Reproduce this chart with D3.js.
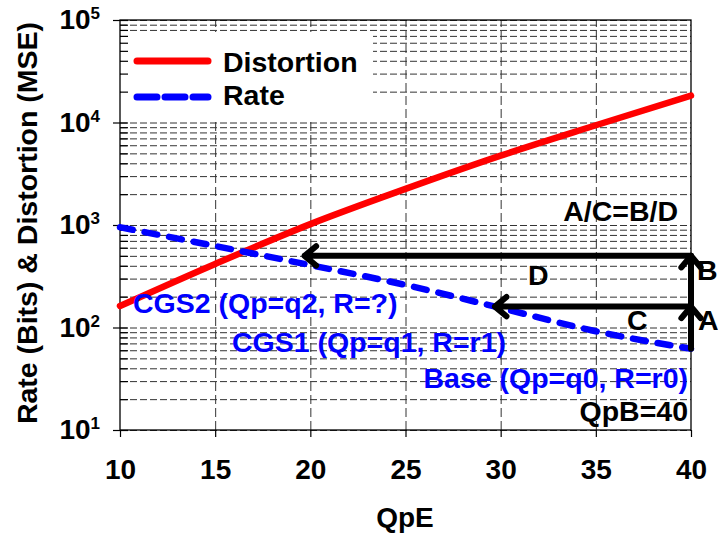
<!DOCTYPE html>
<html>
<head>
<meta charset="utf-8">
<script src="https://cdn.jsdelivr.net/npm/d3@7"></script>
<style>
body { margin: 0; background: #fff; }
svg text { font-family: "Liberation Sans", Arial, sans-serif; font-weight: bold; }
</style>
</head>
<body>
<div id="chart"></div>
<script>
//Width and height
var w = 718;
var h = 536;
var plotLeft = 120, plotRight = 691, plotTop = 20, plotBottom = 430;

//Data
var qpe = [10, 15, 20, 25, 30, 35, 40];
var distortion = [162, 417, 1020, 2250, 4750, 9400, 18300];
var rate = [950, 624, 406, 260, 155, 92, 62];
var xTicks = [10, 15, 20, 25, 30, 35, 40];
var yTicks = [1e1, 1e2, 1e3, 1e4, 1e5];
var seriesNames = ["Distortion", "Rate"];
//arrows: [from QpE, from value, to QpE, to value]
var arrows = [[40, 500, 19.7, 500], [40, 160, 29.7, 160], [40, 62, 40, 160], [40, 160, 40, 500]];
var noteTexts = ["A/C=B/D", "D", "C", "B", "A", "CGS2 (Qp=q2, R=?)", "CGS1 (Qp=q1, R=r1)", "Base (Qp=q0, R=r0)", "QpB=40"];

//Where each note goes (pixels), kept apart from the data
var noteLayout = [
  {x: 678, y: 221, anchor: "end", color: "#000"},
  {x: 528, y: 285, anchor: "start", color: "#000"},
  {x: 627, y: 330, anchor: "start", color: "#000"},
  {x: 697, y: 280, anchor: "start", color: "#000"},
  {x: 698, y: 330, anchor: "start", color: "#000"},
  {x: 133, y: 313, anchor: "start", color: "#0000ff"},
  {x: 232, y: 352, anchor: "start", color: "#0000ff"},
  {x: 688, y: 388, anchor: "end", color: "#0000ff"},
  {x: 688, y: 421, anchor: "end", color: "#000"}
];

//Scales
var xScale = d3.scaleLinear().domain([10, 40]).range([plotLeft, plotRight]);
var yScale = d3.scaleLog().domain([1e1, 1e5]).range([plotBottom, plotTop]);

//minor values 2..9 for every decade, and all 1..9 for inward ticks
var minor = [], allTicks = [];
yTicks.forEach(function(d) {
  for (var k = 1; k < 10; k++) {
    if (d * k > 1e5) break;
    allTicks.push(d * k);
    if (k > 1) minor.push(d * k);
  }
});

var svg = d3.select("#chart")
  .append("svg")
  .attr("width", w)
  .attr("height", h);

//Horizontal grid
var yGrid = svg.append("g")
  .attr("transform", "translate(" + plotLeft + ",0)")
  .call(d3.axisLeft(yScale).tickValues(minor.concat(yTicks)).tickSize(-(plotRight - plotLeft)).tickFormat(""));
yGrid.select(".domain").remove();
yGrid.selectAll("line").attr("stroke", "#333").attr("stroke-dasharray", "7,3");

//Vertical grid
var xGrid = svg.append("g")
  .attr("transform", "translate(0," + plotBottom + ")")
  .call(d3.axisBottom(xScale).tickValues([15, 20, 25, 30, 35]).tickSize(-(plotBottom - plotTop)).tickFormat(""));
xGrid.select(".domain").remove();
xGrid.selectAll("line").attr("stroke", "#333").attr("stroke-dasharray", "9,4");

//Legend box hides the grid
svg.append("rect")
  .attr("x", plotLeft + 1).attr("y", 32)
  .attr("width", 252).attr("height", 90)
  .attr("fill", "#fff");

//Frame
svg.append("rect")
  .attr("x", plotLeft).attr("y", plotTop)
  .attr("width", plotRight - plotLeft).attr("height", plotBottom - plotTop)
  .attr("fill", "none").attr("stroke", "#000").attr("stroke-width", 1.3);

//Inward ticks
var yIn = svg.append("g")
  .attr("transform", "translate(" + plotLeft + ",0)")
  .call(d3.axisLeft(yScale).tickValues(allTicks).tickSize(-8).tickFormat(""));
yIn.select(".domain").remove();
yIn.selectAll("line").attr("stroke-width", 1.2);

//Y axis with 10^n labels
var yAxis = svg.append("g")
  .attr("transform", "translate(" + plotLeft + ",0)")
  .call(d3.axisLeft(yScale).tickValues(yTicks).tickSize(7).tickPadding(13));
yAxis.select(".domain").remove();
yAxis.selectAll("line").attr("stroke-width", 1.2);
yAxis.selectAll(".tick text")
  .attr("font-size", 28)
  .attr("fill", "#000")
  .text(null)
  .each(function(d) {
    var t = d3.select(this);
    t.append("tspan").text("10");
    t.append("tspan").attr("font-size", 17).attr("dy", -10).text(Math.round(Math.log10(d)));
  });

//X axis
var xAxis = svg.append("g")
  .attr("transform", "translate(0," + plotBottom + ")")
  .call(d3.axisBottom(xScale).tickValues(xTicks).tickSize(7).tickPadding(22));
xAxis.select(".domain").remove();
xAxis.selectAll("line").attr("stroke-width", 1.2);
xAxis.selectAll(".tick text").attr("font-size", 28).attr("fill", "#000");

//Axis titles
svg.append("text")
  .attr("x", 405).attr("y", 527)
  .attr("text-anchor", "middle")
  .attr("font-size", 28)
  .text("QpE");

svg.append("text")
  .attr("transform", "translate(37,223) rotate(-90)")
  .attr("text-anchor", "middle")
  .attr("font-size", 28.5)
  .text("Rate (Bits) & Distortion (MSE)");

//Lines
var line = function(values) {
  return d3.line()
    .x(function(d, i) { return xScale(qpe[i]); })
    .y(function(d) { return yScale(d); })
    .curve(d3.curveMonotoneX)(values);
};

svg.append("path")
  .attr("d", line(distortion))
  .attr("fill", "none")
  .attr("stroke", "#ff0000")
  .attr("stroke-width", 6.5)
  .attr("stroke-linecap", "round");

svg.append("path")
  .attr("d", line(rate))
  .attr("fill", "none")
  .attr("stroke", "#0000ff")
  .attr("stroke-width", 6.5)
  .attr("stroke-linecap", "round")
  .attr("stroke-dasharray", "13,12");

//Arrows with open heads
svg.append("g")
  .selectAll("path")
  .data(arrows)
  .enter()
  .append("path")
  .attr("d", function(a) {
    var x1 = xScale(a[0]), y1 = yScale(a[1]), x2 = xScale(a[2]), y2 = yScale(a[3]);
    var len = Math.hypot(x2 - x1, y2 - y1);
    var ux = (x1 - x2) / len, uy = (y1 - y2) / len;
    var ang = 40 * Math.PI / 180, arm = 15;
    var p = function(s) {
      var c = Math.cos(s * ang), sn = Math.sin(s * ang);
      return [x2 + arm * (ux * c - uy * sn), y2 + arm * (ux * sn + uy * c)];
    };
    var a1 = p(1), a2 = p(-1);
    return "M" + x1 + "," + y1 + "L" + x2 + "," + y2 +
      "M" + a1[0] + "," + a1[1] + "L" + x2 + "," + y2 + "L" + a2[0] + "," + a2[1];
  })
  .attr("fill", "none")
  .attr("stroke", "#000")
  .attr("stroke-width", 6)
  .attr("stroke-linecap", "round")
  .attr("stroke-linejoin", "round");

//Notes
svg.append("g")
  .selectAll("text")
  .data(noteTexts)
  .enter()
  .append("text")
  .attr("x", function(d, i) { return noteLayout[i].x; })
  .attr("y", function(d, i) { return noteLayout[i].y; })
  .attr("text-anchor", function(d, i) { return noteLayout[i].anchor; })
  .attr("fill", function(d, i) { return noteLayout[i].color; })
  .attr("font-size", 28.5)
  .text(function(d) { return d; });

//Legend
var legend = svg.append("g");
legend.append("line")
  .attr("x1", 137).attr("x2", 208).attr("y1", 61).attr("y2", 61)
  .attr("stroke", "#ff0000").attr("stroke-width", 7).attr("stroke-linecap", "round");
legend.append("line")
  .attr("x1", 137).attr("x2", 208).attr("y1", 97).attr("y2", 97)
  .attr("stroke", "#0000ff").attr("stroke-width", 7).attr("stroke-linecap", "round")
  .attr("stroke-dasharray", "20,8");
legend.selectAll("text")
  .data(seriesNames)
  .enter()
  .append("text")
  .attr("x", 223)
  .attr("y", function(d, i) { return 72 + i * 33; })
  .attr("font-size", 28.5)
  .text(function(d) { return d; });
</script>
</body>
</html>
